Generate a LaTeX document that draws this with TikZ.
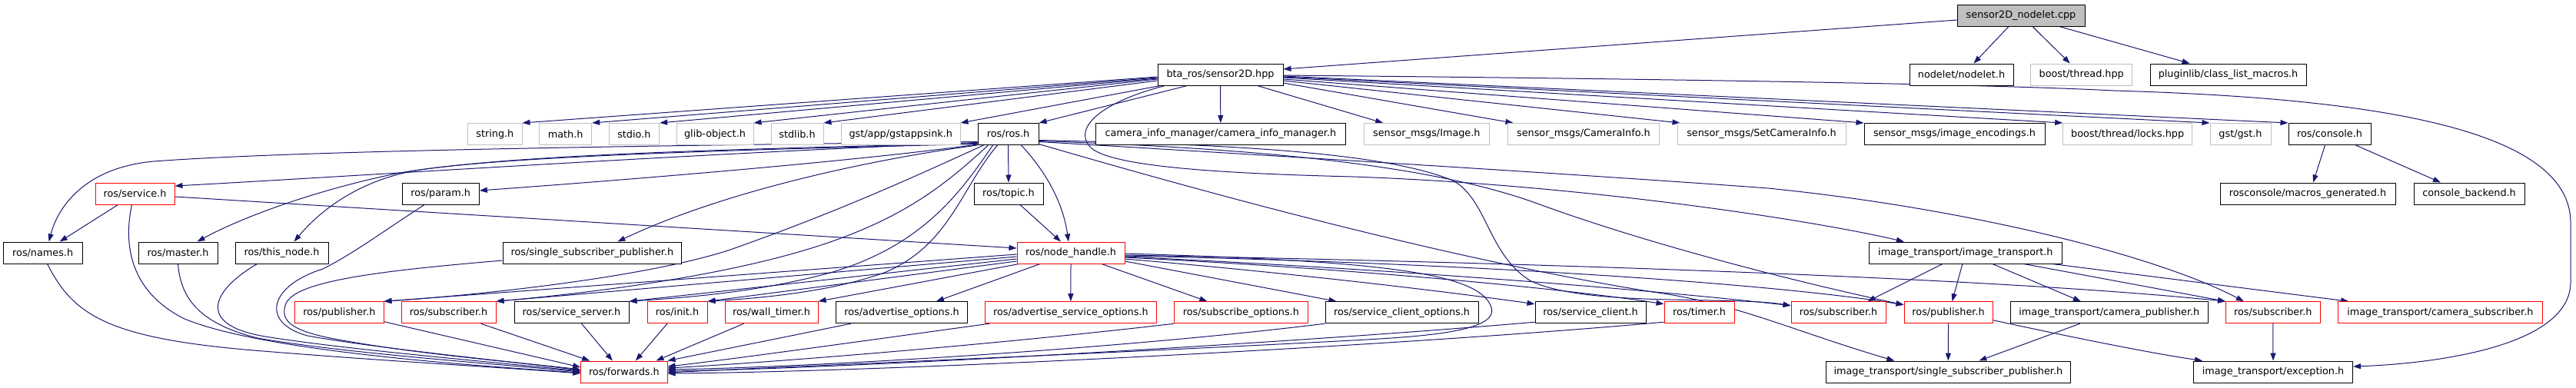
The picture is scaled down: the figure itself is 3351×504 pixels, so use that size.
\documentclass[tikz,border=0pt]{standalone}
\usepackage{fontspec}
\setmainfont{DejaVu Sans}
\usetikzlibrary{arrows.meta}
\definecolor{mblue}{HTML}{191970}
\definecolor{lgrey}{HTML}{C0C0C0}
\definecolor{rootfill}{HTML}{BFBFBF}
\pgfdeclarelayer{bg}
\pgfsetlayers{bg,main}
\tikzset{
  nb/.style={draw=black, line width=1pt, minimum height=28pt, inner sep=0pt, fill=white,
    font=\fontsize{12.8}{15}\selectfont},
  bk/.style={nb},
  gr/.style={nb, draw=lgrey},
  rd/.style={nb, draw=red},
  rootbox/.style={nb, fill=rootfill},
  inc/.style={draw=mblue, line width=1pt, -{Triangle[length=10pt,width=7pt]}}
}
\begin{document}
\begin{tikzpicture}[x=1pt,y=-1pt]
\useasboundingbox (0,0) rectangle (3351,504);
% row 0
\node[rootbox, minimum width=166pt] (cpp) at (2629,20) {sensor2D\_nodelet.cpp};
% row 1
\node[bk, minimum width=163pt] (s2d) at (1587.5,97) {bta\_ros/sensor2D.hpp};
\node[bk, minimum width=135pt] (nodelet) at (2551.5,97) {nodelet/nodelet.h};
\node[gr, minimum width=132pt] (thread) at (2707.7,97) {boost/thread.hpp};
\node[bk, minimum width=203pt] (plugin) at (2898.5,97) {pluginlib/class\_list\_macros.h};
% row 2
\node[gr, minimum width=70.3pt] (string) at (643.85,174.5) {string.h};
\node[gr, minimum width=68pt] (math) at (735.7,174.5) {math.h};
\node[gr, minimum width=65.7pt] (stdio) at (824.85,174.5) {stdio.h};
\node[gr, minimum width=100pt] (glib) at (930,174.5) {glib-object.h};
\node[gr, minimum width=68pt] (stdlib) at (1037,174.5) {stdlib.h};
\node[gr, minimum width=154.5pt] (gstapp) at (1171.75,174.5) {gst/app/gstappsink.h};
\node[bk, minimum width=79pt] (ros) at (1311.5,174.5) {ros/ros.h};
\node[bk, minimum width=325.7pt] (caminfo) at (1587.85,174.5) {camera\_info\_manager/camera\_info\_manager.h};
\node[gr, minimum width=162.3pt] (image) at (1855.85,174.5) {sensor\_msgs/Image.h};
\node[gr, minimum width=197.7pt] (caminfomsg) at (2059.85,174.5) {sensor\_msgs/CameraInfo.h};
\node[gr, minimum width=219pt] (setcaminfo) at (2291.5,174.5) {sensor\_msgs/SetCameraInfo.h};
\node[bk, minimum width=235pt] (encodings) at (2542.5,174.5) {sensor\_msgs/image\_encodings.h};
\node[gr, minimum width=167.9pt] (locks) at (2767.65,174.5) {boost/thread/locks.hpp};
\node[gr, minimum width=79pt] (gst) at (2914.5,174.5) {gst/gst.h};
\node[bk, minimum width=107pt] (console) at (3030.5,174.5) {ros/console.h};
% row 3
\node[rd, minimum width=103pt] (service) at (175.5,252) {ros/service.h};
\node[bk, minimum width=100.3pt] (param) at (573.15,252) {ros/param.h};
\node[bk, minimum width=90pt] (topic) at (1312,252) {ros/topic.h};
\node[bk, minimum width=228pt] (macros) at (3002,252) {rosconsole/macros\_generated.h};
\node[bk, minimum width=144pt] (backend) at (3212,252) {console\_backend.h};
% row 4
\node[bk, minimum width=102.7pt] (names) at (55.65,329) {ros/names.h};
\node[bk, minimum width=103pt] (master) at (231.5,329) {ros/master.h};
\node[bk, minimum width=121pt] (thisnode) at (366.5,329) {ros/this\_node.h};
\node[bk, minimum width=232.7pt] (ssp) at (770.35,329) {ros/single\_subscriber\_publisher.h};
\node[rd, minimum width=140pt] (nh) at (1393,329) {ros/node\_handle.h};
\node[bk, minimum width=250.3pt] (imgtrans) at (2556.85,329) {image\_transport/image\_transport.h};
% row 5
\node[rd, minimum width=115.3pt] (pubA) at (441.35,406.7) {ros/publisher.h};
\node[rd, minimum width=123pt] (subA) at (583.5,406.7) {ros/subscriber.h};
\node[bk, minimum width=149pt] (srvserver) at (743.5,406.7) {ros/service\_server.h};
\node[rd, minimum width=78pt] (init) at (881,406.7) {ros/init.h};
\node[rd, minimum width=121pt] (walltimer) at (1003.5,406.7) {ros/wall\_timer.h};
\node[bk, minimum width=170.8pt] (advopt) at (1173,406.7) {ros/advertise\_options.h};
\node[rd, minimum width=222.3pt] (advsrvopt) at (1392.85,406.7) {ros/advertise\_service\_options.h};
\node[rd, minimum width=173.3pt] (subopt) at (1614.35,406.7) {ros/subscribe\_options.h};
\node[bk, minimum width=199pt] (srvclopt) at (1823.5,406.7) {ros/service\_client\_options.h};
\node[bk, minimum width=144pt] (srvclient) at (2069,406.7) {ros/service\_client.h};
\node[rd, minimum width=91pt] (timer) at (2210.5,406.7) {ros/timer.h};
\node[rd, minimum width=123pt] (subB) at (2391.5,406.7) {ros/subscriber.h};
\node[rd, minimum width=115pt] (pubB) at (2534.5,406.7) {ros/publisher.h};
\node[bk, minimum width=257.6pt] (campub) at (2743.8,406.7) {image\_transport/camera\_publisher.h};
\node[rd, minimum width=122.4pt] (subC) at (2956.8,406.7) {ros/subscriber.h};
\node[rd, minimum width=265.3pt] (camsub) at (3174.35,406.7) {image\_transport/camera\_subscriber.h};
% row 6
\node[rd, minimum width=112.3pt] (fwd) at (811.85,484) {ros/forwards.h};
\node[bk, minimum width=318.7pt] (sspit) at (2534.35,484) {image\_transport/single\_subscriber\_publisher.h};
\node[bk, minimum width=207pt] (exc) at (2957,484) {image\_transport/exception.h};

\begin{pgfonlayer}{bg}
\fill[white] (0,0) rectangle (3351,504);
% root
\draw[inc] ([yshift=-6pt]cpp.west) -- ([yshift=7pt]s2d.east);
\draw[inc] ([xshift=-16pt]cpp.south) -- ([xshift=16pt]nodelet.north);
\draw[inc] ([xshift=15pt]cpp.south) -- ([xshift=-15pt]thread.north);
\draw[inc] ([xshift=50pt]cpp.south) -- ([xshift=-50pt]plugin.north);
% sensor2D left
\draw[inc] ([yshift=-3pt]s2d.west) -- (string.north east);
\draw[inc] ([yshift=-4pt]s2d.west) -- (math.north east);
\draw[inc] ([yshift=-5pt]s2d.west) -- (stdio.north east);
\draw[inc] ([yshift=-6pt]s2d.west) -- (glib.north east);
\draw[inc] ([yshift=-8pt]s2d.west) -- (stdlib.north east);
\draw[inc] ([xshift=4pt]s2d.south west) -- (gstapp.north east);
\draw[inc] ([xshift=-43pt]s2d.south) -- (ros.north east);
\draw[inc] (s2d.south) -- (caminfo.north);
% sensor2D right
\draw[inc] ([xshift=48pt]s2d.south) -- ([xshift=25pt]image.north west);
\draw[inc] ([yshift=-11pt]s2d.east) -- ([xshift=8pt]caminfomsg.north west);
\draw[inc] ([yshift=-8pt]s2d.east) -- ([xshift=4pt]setcaminfo.north west);
\draw[inc] ([yshift=-6pt]s2d.east) -- (encodings.north west);
\draw[inc] ([yshift=-4pt]s2d.east) -- (locks.north west);
\draw[inc] ([yshift=-3pt]s2d.east) -- (gst.north west);
\draw[inc] ([yshift=-2pt]s2d.east) -- (console.north west);
\draw[inc] ([yshift=-1pt]s2d.east) .. controls (2200,103) and (2600,110) .. (2750,118)
  .. controls (3100,128) and (3344,170) .. (3344,290) -- (3344,367)
  .. controls (3344,455) and (3150,474) .. ([yshift=7pt]exc.east);
\draw[inc] ([xshift=10pt]s2d.south west) .. controls (1425,135) and (1395,170) .. (1420,193)
  .. controls (1450,218) and (1600,226) .. (1760,230)
  .. controls (2050,240) and (2350,285) .. ([xshift=-80pt]imgtrans.north);
% ros.h to the left
\draw[inc] ([yshift=-10pt]ros.west) .. controls (900,189) and (400,195) .. (200,210)
  .. controls (110,218) and (75,270) .. ([xshift=8pt]names.north);
\draw[inc] ([yshift=-11pt]ros.west) .. controls (900,200) and (450,230) .. ([yshift=10pt]service.east);
\draw[inc] ([yshift=-12pt]ros.west) .. controls (900,195) and (650,203) .. (520,225)
  .. controls (420,245) and (320,280) .. ([xshift=25pt]master.north);
\draw[inc] ([yshift=-13pt]ros.west) .. controls (900,196) and (650,205) .. (540,222)
  .. controls (470,235) and (420,270) .. ([xshift=16pt]thisnode.north);
\draw[inc] ([yshift=-13.5pt]ros.west) .. controls (1150,205) and (900,228) .. ([yshift=4pt]param.east);
\draw[inc] (ros.south west) .. controls (1150,205) and (950,245) .. ([xshift=33pt]ssp.north);
\draw[inc] ([xshift=8pt]ros.south west) .. controls (1200,225) and (1100,272) .. (950,325)
  .. controls (850,358) and (650,382) .. (pubA.north east);
\draw[inc] ([xshift=14pt]ros.south west) .. controls (1230,240) and (1180,280) .. (1080,315)
  .. controls (950,360) and (760,382) .. (subA.north east);
\draw[inc] ([xshift=20pt]ros.south west) .. controls (1250,250) and (1200,320) .. (1080,355)
  .. controls (980,382) and (880,388) .. (srvserver.north east);
\draw[inc] ([xshift=26pt]ros.south west) .. controls (1250,245) and (1235,320) .. (1150,355)
  .. controls (1080,380) and (990,388) .. (init.north east);
\draw[inc] (ros.south) -- (topic.north);
\draw[inc] ([xshift=17pt]ros.south) .. controls (1362,225) and (1383,265) .. ([xshift=-3pt]nh.north);
% ros.h to the right
\draw[inc] ([yshift=-8pt]ros.east) .. controls (1600,188) and (1800,198) .. (1890,235)
  .. controls (1935,260) and (1935,330) .. (1990,365)
  .. controls (2060,400) and (2250,385) .. ([yshift=9pt]subB.west);
\draw[inc] ([yshift=-9pt]ros.east) .. controls (1600,192) and (1850,210) .. (2000,265)
  .. controls (2150,320) and (2350,370) .. ([yshift=10pt]pubB.west);
\draw[inc] ([yshift=-10pt]ros.east) .. controls (1700,205) and (2100,230) .. (2300,245)
  .. controls (2550,270) and (2800,330) .. ([xshift=-38pt]subC.north);
\draw[inc] ([yshift=-13pt]ros.east) .. controls (1600,260) and (1900,340) .. (2150,380)
  .. controls (2260,395) and (2330,430) .. ([xshift=-70pt]sspit.north);
% service, topic, console
\draw[inc] ([xshift=-22pt]service.south) -- ([xshift=22pt]names.north);
\draw[inc] ([yshift=-4pt]service.east) -- ([yshift=6pt]nh.west);
\draw[inc] ([xshift=15pt]topic.south) -- ([xshift=-13pt]nh.north);
\draw[inc] ([xshift=-6pt]console.south) -- ([xshift=7pt]macros.north);
\draw[inc] ([xshift=34pt]console.south) -- ([xshift=-37pt]backend.north);
% node_handle to the left and down
\draw[inc] ([yshift=-2pt]nh.west) -- (pubA.north east);
\draw[inc] ([yshift=-5pt]nh.west) -- (subA.north east);
\draw[inc] ([yshift=-8pt]nh.west) -- (srvserver.north east);
\draw[inc] ([yshift=-11pt]nh.west) -- (init.north east);
\draw[inc] ([xshift=3pt]nh.south west) -- (walltimer.north east);
\draw[inc] ([xshift=-40pt]nh.south) -- ([xshift=45pt]advopt.north);
\draw[inc] (nh.south) -- (advsrvopt.north);
\draw[inc] ([xshift=40pt]nh.south) -- ([xshift=-44pt]subopt.north);
\draw[inc] ([yshift=-11pt]nh.east) -- ([xshift=-85pt]srvclopt.north);
% node_handle to the right
\draw[inc] ([yshift=-8pt]nh.east) .. controls (1700,357) and (1900,382) .. ([yshift=11pt]srvclient.west);
\draw[inc] ([yshift=-6pt]nh.east) .. controls (1800,352) and (2050,378) .. ([yshift=11pt]timer.west);
\draw[inc] ([yshift=-5pt]nh.east) .. controls (1900,355) and (2200,383) .. ([yshift=9pt]subB.west);
\draw[inc] ([yshift=-4pt]nh.east) .. controls (1900,342) and (2300,368) .. ([yshift=10pt]pubB.west);
\draw[inc] ([yshift=-3pt]nh.east) .. controls (2000,342) and (2600,362) .. (subC.north west);
\draw[inc] ([yshift=-1pt]nh.east) .. controls (1800,340) and (1925,355) .. (1940,400)
  .. controls (1950,432) and (1850,438) .. (1760,443)
  .. controls (1400,462) and (1000,478) .. ([yshift=-1pt]fwd.east);
% into forwards from the left
\draw[inc] ([xshift=6pt]names.south) .. controls (95,410) and (140,440) .. (330,456)
  .. controls (500,470) and (650,478) .. ([yshift=-2pt]fwd.west);
\draw[inc] ([xshift=-4pt]service.south) .. controls (160,320) and (170,380) .. (240,415)
  .. controls (330,452) and (550,472) .. ([yshift=-1pt]fwd.west);
\draw[inc] (master.south) .. controls (235,385) and (255,420) .. (335,440)
  .. controls (450,460) and (650,474) .. (fwd.west);
\draw[inc] ([xshift=-32pt]thisnode.south) .. controls (280,375) and (250,422) .. (345,438)
  .. controls (450,455) and (650,472) .. ([yshift=1pt]fwd.west);
\draw[inc] ([xshift=-21pt]param.south) .. controls (500,300) and (460,330) .. (420,350)
  .. controls (350,372) and (338,420) .. (400,437)
  .. controls (500,455) and (680,472) .. ([yshift=2pt]fwd.west);
\draw[inc] ([yshift=-10pt]ssp.west) .. controls (500,352) and (385,365) .. (372,395)
  .. controls (362,420) and (385,432) .. (440,442)
  .. controls (550,462) and (680,472) .. ([yshift=3pt]fwd.west);
\draw[inc] ([yshift=-12pt]pubA.east) -- ([yshift=6pt]fwd.west);
\draw[inc] ([xshift=42pt]subA.south) -- ([xshift=12pt]fwd.north west);
\draw[inc] ([xshift=13pt]srvserver.south) -- ([xshift=-15pt]fwd.north);
\draw[inc] ([xshift=-13pt]init.south) -- ([xshift=15pt]fwd.north);
\draw[inc] ([xshift=-36pt]walltimer.south) -- ([xshift=-15pt]fwd.north east);
% into forwards from the right
\draw[inc] ([xshift=-66pt]advopt.south) -- (fwd.north east);
\draw[inc] ([xshift=6pt]advsrvopt.south west) .. controls (1150,440) and (950,468) .. ([yshift=7pt]fwd.east);
\draw[inc] (subopt.south west) .. controls (1300,448) and (1000,472) .. ([yshift=5pt]fwd.east);
\draw[inc] (srvclopt.south west) .. controls (1450,455) and (1050,478) .. ([yshift=3pt]fwd.east);
\draw[inc] ([yshift=2pt]srvclient.south west) .. controls (1700,445) and (1100,480) .. ([yshift=1pt]fwd.east);
\draw[inc] ([yshift=2pt]timer.south west) .. controls (1800,452) and (1150,484) .. ([yshift=-2pt]fwd.east);
% image_transport
\draw[inc] ([xshift=-30pt]imgtrans.south) -- ([xshift=38pt]subB.north);
\draw[inc] ([xshift=-4pt]imgtrans.south) -- ([xshift=5pt]pubB.north);
\draw[inc] ([xshift=35pt]imgtrans.south) -- ([xshift=-37pt]campub.north);
\draw[inc] ([xshift=76pt]imgtrans.south) -- (subC.north west);
\draw[inc] ([xshift=113pt]imgtrans.south) -- ([xshift=14pt]camsub.north west);
\draw[inc] (pubB.south) -- (sspit.north);
\draw[inc] ([xshift=-38pt]campub.south) -- ([xshift=40pt]sspit.north);
\draw[inc] ([yshift=-10pt]pubB.east) .. controls (2700,440) and (2800,460) .. ([xshift=12pt]exc.north west);
\draw[inc] (subC.south) -- (exc.north);
\end{pgfonlayer}
\end{tikzpicture}
\end{document}
